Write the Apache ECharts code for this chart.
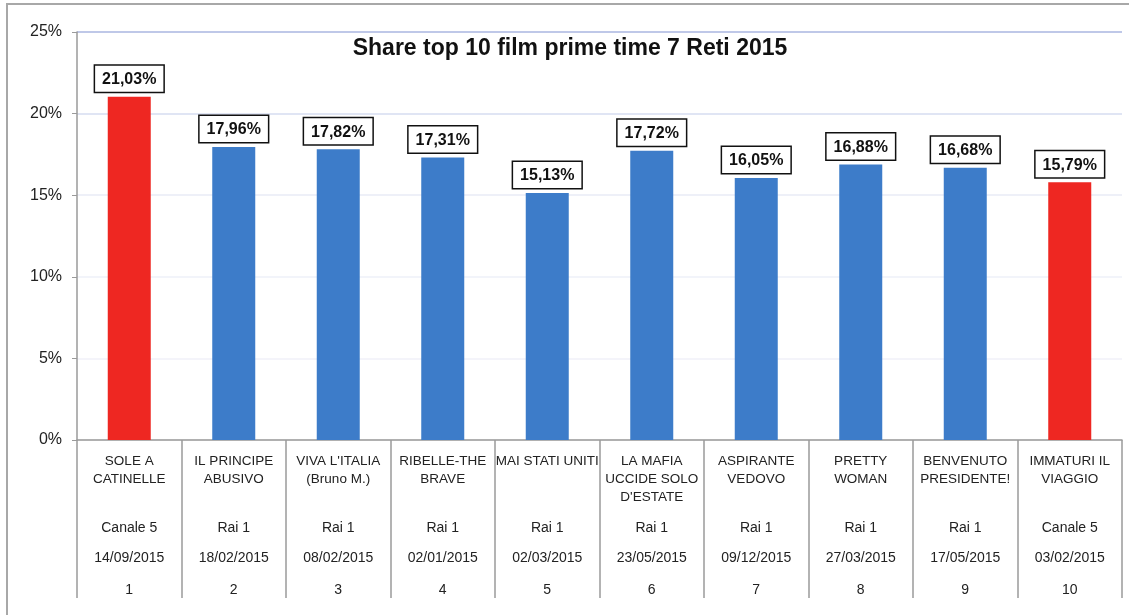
<!DOCTYPE html>
<html>
<head>
<meta charset="utf-8">
<script src="https://cdn.jsdelivr.net/npm/echarts@6/dist/echarts.min.js"></script>
<style>
    html, body { margin: 0; padding: 0; background: #fff; }
    #chart { width: 1129px; height: 615px; }
</style>
</head>
<body>
<div id="chart"></div>
<script>
const films = ['SOLE A\nCATINELLE', 'IL PRINCIPE\nABUSIVO', "VIVA L'ITALIA\n(Bruno M.)", 'RIBELLE-THE\nBRAVE', 'MAI STATI UNITI',
    "LA MAFIA\nUCCIDE SOLO\nD'ESTATE", 'ASPIRANTE\nVEDOVO', 'PRETTY\nWOMAN', 'BENVENUTO\nPRESIDENTE!', 'IMMATURI IL\nVIAGGIO'];
const channels = ['Canale 5', 'Rai 1', 'Rai 1', 'Rai 1', 'Rai 1', 'Rai 1', 'Rai 1', 'Rai 1', 'Rai 1', 'Canale 5'];
const dates = ['14/09/2015', '18/02/2015', '08/02/2015', '02/01/2015', '02/03/2015', '23/05/2015', '09/12/2015', '27/03/2015', '17/05/2015', '03/02/2015'];
const ranks = ['1', '2', '3', '4', '5', '6', '7', '8', '9', '10'];
const shares = [21.03, 17.96, 17.82, 17.31, 15.13, 17.72, 16.05, 16.88, 16.68, 15.79];
const yTicks = [0, 5, 10, 15, 20, 25];

const chartDom = document.getElementById('chart');
const myChart = echarts.init(chartDom);

const fontFam = '"Liberation Sans", Arial, sans-serif';

// name on 3 fixed rows, then channel / date / rank rows
const catLabel = (value, idx) => {
    let lines = films[idx].split('\n');
    while (lines.length < 3) lines.push(' ');
    let out = lines.map(l => '{n|' + l + '}').join('\n');
    out += '\n{s| }\n{c|' + channels[idx] + '}\n{d|' + dates[idx] + '}\n{r|' + ranks[idx] + '}';
    return out;
};

const option = {
    animation: false,
    title: {
        text: 'Share top 10 film prime time 7 Reti 2015',
        left: 565,
        top: 32,
        textAlign: 'center',
        textStyle: {
            fontFamily: fontFam,
            fontSize: 23,
            fontWeight: 'bold',
            color: '#111'
        }
    },
    graphic: [{
        type: 'rect',
        shape: { x: 7, y: 4, width: 1140, height: 640 },
        style: { fill: 'none', stroke: '#a8a8a8', lineWidth: 2 },
        silent: true
    }],
    grid: {
        left: 77,
        right: 7,
        top: 32,
        bottom: 175,
        containLabel: false
    },
    xAxis: {
        type: 'category',
        data: ranks,
        axisLine: { lineStyle: { color: '#9a9a9a', width: 1.5 } },
        axisTick: {
            show: true,
            interval: 0,
            length: 158,
            lineStyle: { color: '#9a9a9a', width: 1.5 }
        },
        axisLabel: {
            interval: 0,
            margin: 12,
            formatter: catLabel,
            rich: {
                n: { fontFamily: fontFam, fontSize: 13.5, lineHeight: 18, color: '#222', align: 'center' },
                s: { fontSize: 2, lineHeight: 5 },
                c: { fontFamily: fontFam, fontSize: 14, lineHeight: 34, color: '#222', align: 'center' },
                d: { fontFamily: fontFam, fontSize: 14, lineHeight: 26, color: '#222', align: 'center' },
                r: { fontFamily: fontFam, fontSize: 14, lineHeight: 38, color: '#222', align: 'center' }
            }
        }
    },
    yAxis: {
        type: 'value',
        min: yTicks[0],
        max: yTicks[yTicks.length - 1],
        interval: 5,
        axisLine: { show: true, lineStyle: { color: '#9a9a9a', width: 1.5 } },
        axisTick: { show: true, length: 5, lineStyle: { color: '#9a9a9a' } },
        axisLabel: {
            margin: 15,
            formatter: '{value}%',
            fontFamily: fontFam,
            fontSize: 16,
            color: '#222'
        },
        splitLine: {
            lineStyle: {
                color: ['#eeeeee', '#f0f1f8', '#eef0f8', '#e8ebf6', '#d6dcf0', '#aab6e0'],
                width: 1.5
            }
        }
    },
    series: [
        {
            name: 'Share',
            type: 'bar',
            data: shares.map((v, i) => ({
                value: v,
                itemStyle: { color: channels[i] === 'Canale 5' ? '#ee2722' : '#3d7cc9' }
            })),
            barWidth: 43,
            label: {
                show: true,
                position: 'top',
                distance: 5,
                formatter: p => p.value.toFixed(2).replace('.', ',') + '%',
                fontFamily: fontFam,
                fontSize: 16,
                fontWeight: 'bold',
                color: '#111',
                backgroundColor: '#fff',
                borderColor: '#111',
                borderWidth: 1.5,
                padding: [6, 7, 4, 7]
            }
        }
    ]
};

option && myChart.setOption(option);
</script>
</body>
</html>
